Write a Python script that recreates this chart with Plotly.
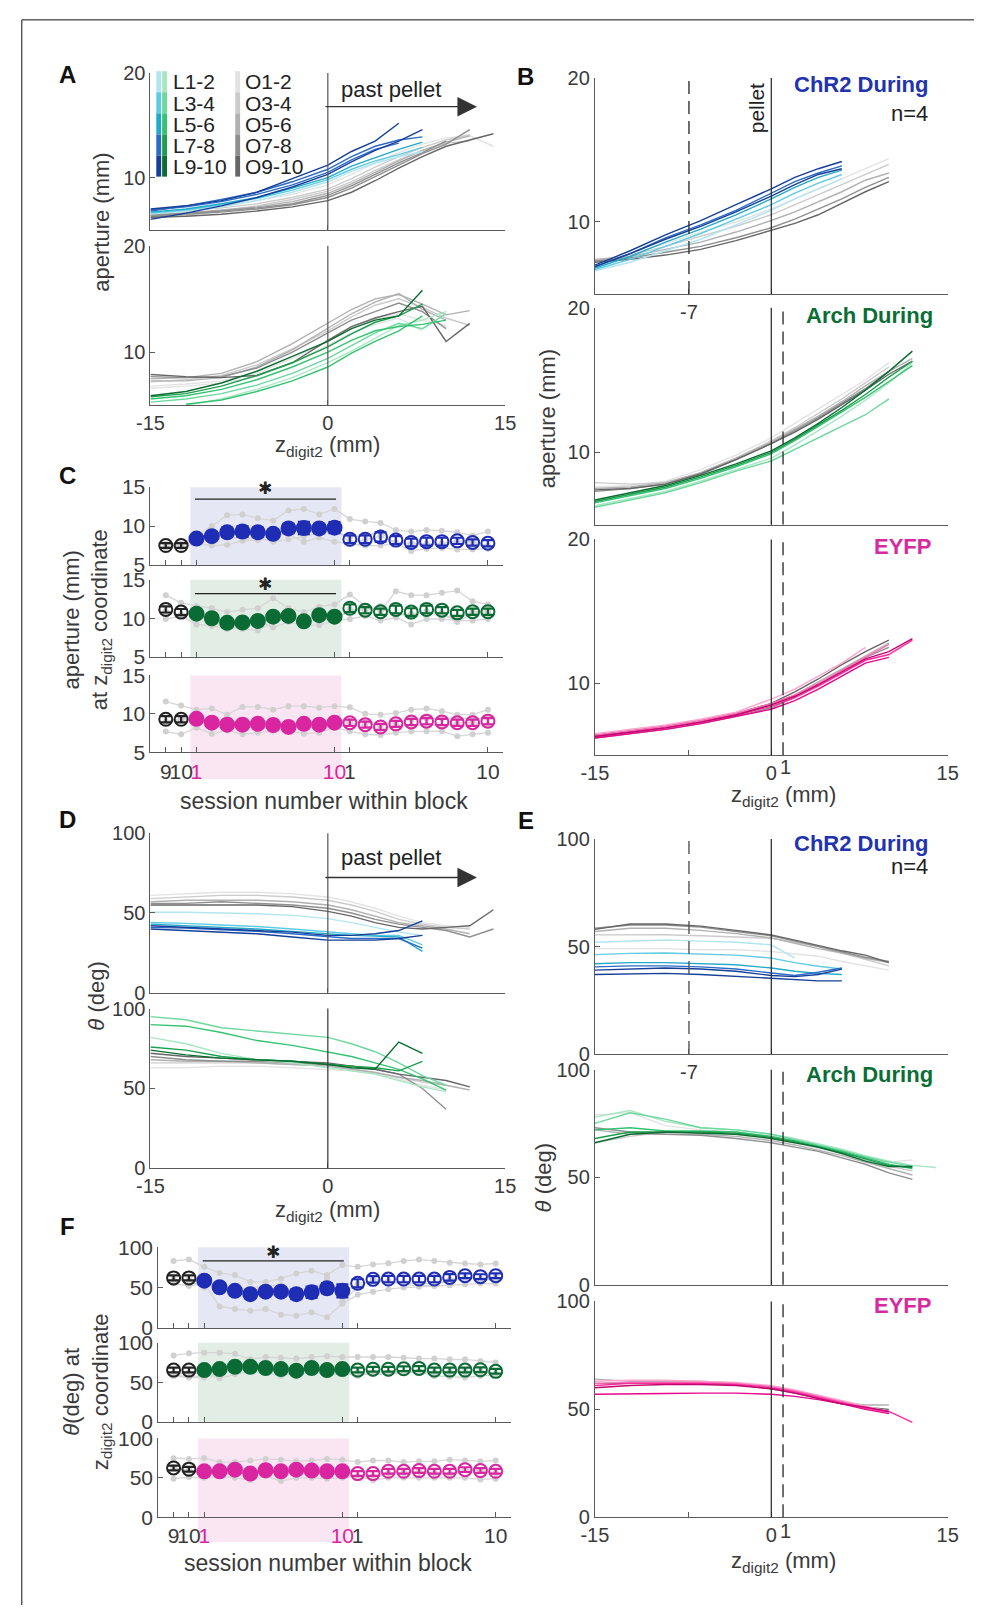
import plotly.graph_objects as go

W, H = 985, 1616
def fx(p): return p / W
def fy(p): return 1 - p / H

FONT = "Liberation Sans, Arial, sans-serif"
TXT = "#3a3a3a"
AX = "#5a5a5a"

# ---------------- colour families (session pairs 1-2 ... 9-10) ----------------
BLUES = ['#B3E5F0', '#5FCBE3', '#23A9C9', '#2B6BC6', '#163F99']
GREENS = ['#A9E7C3', '#6DD89E', '#35C372', '#1B9F4E', '#0B6E31']
GRAYS = ['#E3E3E3', '#CBCBCB', '#B1B1B1', '#8F8F8F', '#666666']
PINKS = ['#FFA3CF', '#FF6FB9', '#FF2A9E', '#E8068A', '#C3076F']
C_BLUE, C_GREEN, C_PINK = '#1F2DB5', '#0B6B35', '#D926A0'

# ---------------- trajectory data (x grid in mm) ----------------
G = [-15, -12, -9, -6, -3, 0, 2, 4, 6, 8, 10, 12, 14]

A1_OFF = [[6.6, 6.9, 7.3, 7.8, 8.4, 9.3, 10.3, 11.4, 12.4, 13.2, 13.8, 14.0, 13.0],
          [6.5, 6.8, 7.1, 7.5, 8.1, 8.9, 9.9, 11.0, 12.0, 12.9, 13.6, 14.1],
          [6.1, 6.4, 6.8, 7.3, 7.9, 8.7, 9.6, 10.7, 11.7, 12.6, 13.3, 13.5],
          [6.4, 6.6, 6.9, 7.2, 7.7, 8.5, 9.4, 10.5, 11.6, 12.6, 13.4, 14.0],
          [6.3, 6.5, 6.7, 7.0, 7.4, 8.1, 9.0, 10.1, 11.2, 12.3, 13.2, 14.6],
          [6.4, 6.6, 6.8, 7.1, 7.5, 8.3, 9.2, 10.3, 11.4, 12.4, 13.5],
          [6.2, 6.3, 6.5, 6.8, 7.2, 7.8, 8.6, 9.7, 10.9, 12.0, 13.0, 13.6, 14.2]]
A1_OFF_GRP = [0, 1, 1, 2, 3, 3, 4]
A1_ON = [[6.5, 6.8, 7.2, 7.8, 8.6, 9.6, 10.6, 11.4, 12.0, 12.5],
         [6.6, 6.9, 7.4, 8.0, 8.8, 9.8, 10.8, 11.6, 12.2, 12.9],
         [6.7, 7.0, 7.5, 8.1, 9.0, 10.0, 11.1, 11.9, 12.7, 13.4],
         [6.9, 7.2, 7.7, 8.4, 9.3, 10.5, 11.7, 12.7, 13.3],
         [6.8, 7.3, 7.9, 8.6, 9.6, 10.8, 12.0, 13.0, 13.6, 13.9],
         [7.0, 7.3, 7.8, 8.6, 9.9, 11.2, 12.5, 13.5, 15.2],
         [6.0, 6.6, 7.3, 8.1, 9.1, 10.3, 11.5, 12.6, 13.5, 14.6]]
A1_ON_GRP = [0, 1, 2, 3, 3, 4, 4]

A2_OFF = [[6.8, 7.0, 7.3, 8.0, 9.4, 11.0, 12.2, 13.1, 13.6, 13.0, 12.5],
          [6.6, 6.8, 7.1, 7.7, 9.0, 10.6, 11.8, 12.6, 13.2, 12.0],
          [7.2, 7.4, 7.8, 8.8, 10.3, 12.0, 13.3, 14.4, 15.0, 14.2, 13.2, 12.5],
          [7.5, 7.6, 8.0, 9.1, 10.8, 12.7, 14.0, 15.0, 15.4, 14.5, 13.5, 13.9],
          [7.3, 7.3, 7.6, 8.6, 10.2, 12.2, 13.6, 14.7, 15.5, 14.0, 13.0],
          [7.7, 7.6, 7.7, 8.5, 10.0, 11.8, 13.0, 13.8, 14.6, 13.8, 12.2],
          [7.9, 7.7, 7.6, 7.8, 9.0, 11.1, 12.4, 13.2, 13.8, 14.3, 11.0, 12.7]]
A2_OFF_GRP = [0, 0, 1, 2, 2, 3, 4]
A2_ON = [[None, 5.0, 5.6, 6.5, 7.6, 9.0, 10.1, 11.3, 12.5, 13.0, 13.8],
         [5.3, 5.6, 6.1, 6.9, 8.0, 9.4, 10.6, 11.8, 12.7, 12.2, 13.6],
         [5.6, 5.9, 6.5, 7.4, 8.6, 10.0, 11.1, 12.0, 12.4, 12.6, 13.0],
         [None, 5.1, 5.5, 6.3, 7.3, 8.6, 9.9, 11.0, 12.0, 13.4],
         [5.8, 6.1, 6.8, 7.8, 9.0, 10.5, 11.7, 12.8, 13.4, 14.5],
         [5.9, 6.3, 7.1, 8.2, 9.6, 11.0, 12.2, 13.0, 13.4, 15.8]]
A2_ON_GRP = [0, 1, 2, 2, 3, 4]

B1_OFF = [[7.2, 7.8, 8.5, 9.3, 10.0, 10.9, 11.6, 12.3, 13.0, 13.7, 14.4],
          [7.3, 7.7, 8.3, 9.0, 9.7, 10.5, 11.2, 11.9, 12.6, 13.3, 14.0],
          [7.4, 7.6, 8.1, 8.6, 9.3, 10.1, 10.7, 11.4, 12.1, 12.9, 13.4],
          [7.3, 7.5, 7.9, 8.3, 8.9, 9.6, 10.2, 10.9, 11.6, 12.4, 13.1],
          [7.2, 7.4, 7.7, 8.1, 8.7, 9.4, 9.9, 10.5, 11.3, 12.1, 12.8]]
B1_OFF_GRP = [0, 1, 2, 3, 4]
B1_ON = [[6.6, 7.2, 8.0, 8.8, 9.8, 10.8, 11.6, 12.3, 13.0],
         [6.7, 7.4, 8.3, 9.2, 10.2, 11.2, 12.0, 12.7, 13.3],
         [6.8, 7.6, 8.6, 9.5, 10.5, 11.6, 12.4, 13.1, 13.6],
         [6.9, 7.8, 8.9, 9.8, 10.8, 12.0, 12.8, 13.4, 13.9],
         [7.0, 8.0, 9.1, 10.1, 11.2, 12.3, 13.1, 13.7, 14.2],
         [6.9, 7.8, 8.8, 9.7, 10.7, 11.8, 12.6, 13.3, 13.7]]
B1_ON_GRP = [0, 1, 2, 3, 4, 4]

B2_OFF = [[7.6, 7.7, 8.0, 8.8, 9.8, 11.0, 12.0, 13.0, 14.0, 15.0, 16.2],
          [7.9, 7.8, 7.9, 8.6, 9.6, 10.8, 11.7, 12.7, 13.7, 14.8, 15.9],
          [7.5, 7.6, 7.9, 8.6, 9.6, 10.7, 11.6, 12.5, 13.5, 14.6, 15.6, 16.5],
          [7.3, 7.5, 7.8, 8.5, 9.5, 10.6, 11.5, 12.4, 13.4, 14.4, 15.6],
          [7.4, 7.5, 7.8, 8.5, 9.5, 10.6, 11.4, 12.3, 13.3, 14.3, 15.4, 16.3]]
B2_OFF_GRP = [0, 1, 2, 3, 4]
B2_ON = [[6.3, 6.8, 7.3, 8.0, 8.8, 9.6, 10.5, 11.5, 12.5, 13.6, 14.8, 16.2],
         [6.2, 6.7, 7.2, 7.9, 8.7, 9.4, 10.2, 11.0, 11.8, 12.6, 13.7],
         [6.5, 7.0, 7.5, 8.2, 9.0, 9.9, 10.8, 11.8, 12.8, 13.8, 14.9, 16.0],
         [6.6, 7.1, 7.6, 8.3, 9.1, 10.0, 10.9, 11.9, 12.9, 14.0, 15.2, 16.3],
         [6.7, 7.2, 7.7, 8.4, 9.2, 10.1, 11.0, 12.0, 13.1, 14.3, 15.6, 17.0]]
B2_ON_GRP = [0, 1, 2, 3, 4]

B3_OFF = [[6.3, 6.6, 6.9, 7.3, 7.8, 8.5, 9.2, 10.1, 11.0, 11.9, 12.8],
          [6.2, 6.5, 6.8, 7.2, 7.7, 8.3, 9.0, 9.9, 10.9, 11.8, 12.5],
          [6.4, 6.7, 7.0, 7.4, 7.9, 8.6, 9.4, 10.3, 11.3, 12.2, 13.0]]
B3_OFF_GRP = [2, 3, 4]
B3_ON = [[6.5, 6.8, 7.1, 7.5, 8.0, 8.9, 9.6, 10.5, 11.4, 12.5],
         [6.4, 6.7, 7.0, 7.4, 7.9, 8.6, 9.2, 10.0, 10.9, 11.8, 12.7],
         [6.3, 6.6, 6.9, 7.3, 7.8, 8.4, 9.0, 9.8, 10.7, 11.6, 12.0, 13.0],
         [6.2, 6.5, 6.8, 7.2, 7.7, 8.2, 8.8, 9.6, 10.5, 11.4, 11.8],
         [6.3, 6.6, 6.9, 7.3, 7.8, 8.5, 9.1, 9.9, 10.8, 11.7, 12.2, 13.1]]
B3_ON_GRP = [0, 1, 2, 3, 4]

D1_OFF = [[61, 62, 63, 63, 62, 60, 57, 53, 48, 44, 42, 41],
          [59, 60, 61, 61, 60, 58, 55, 51, 46, 43, 41, 40],
          [57, 58, 58, 58, 57, 55, 52, 48, 44, 42, 40, 37],
          [56, 56, 57, 56, 55, 53, 50, 46, 43, 41, 39, 35, 40],
          [55, 55, 55, 55, 54, 51, 48, 44, 41, 40, 41, 42, 52]]
D1_OFF_GRP = [0, 1, 2, 3, 4]
D1_ON = [[50.5, 50.5, 50, 49.5, 48.5, 46.5, 44, 41, 38, 36],
         [44, 43.5, 42.5, 41.5, 40, 38, 37, 36, 36, 30],
         [43, 42, 41, 40, 38.5, 37, 36, 35.5, 35, 26],
         [41, 40.5, 39.5, 38.5, 37, 35, 34, 34, 34, 28],
         [40, 39, 38, 37, 35, 33, 33, 33, 34, 36],
         [42, 41, 40, 39, 38, 36, 36, 37, 39, 45]]
D1_ON_GRP = [0, 1, 2, 3, 4, 4]

D2_OFF = [[63, 63, 64, 64, 63, 62, 61, 59, 56, 52, 49],
          [66, 66, 66, 66, 65, 64, 62, 60, 57, 54, 52],
          [68, 67, 67, 66, 65, 64, 62, 60, 57, 55, 52, 49],
          [70, 68, 67, 67, 66, 65, 64, 62, 59, 50, 37],
          [72, 70, 69, 68, 67, 66, 64, 62, 59, 57, 55, 51]]
D2_OFF_GRP = [0, 1, 2, 3, 4]
D2_ON = [[82, 78, 72, 68, 66, 63, 61, 59, 55, 51, 48],
         [95, 93, 88, 86, 84, 82, 78, 73, 66, 58, 52],
         [90, 89, 85, 80, 77, 73, 70, 66, 62, 56, 49],
         [76, 74, 70, 68, 67, 65, 64, 63, 61, 67],
         [74, 71, 69, 68, 67, 65, 63, 62, 79, 72]]
D2_ON_GRP = [0, 1, 2, 3, 4]

E1_OFF = [[49, 49, 49, 48.5, 48.5, 47.7, 46.5, 45.5, 43, 41, 39],
          [55.4, 55.5, 55.5, 55, 54.5, 53.8, 52, 50, 47, 44, 41],
          [57, 58.5, 58.5, 57.5, 56, 54, 51.5, 49, 47, 44.5, 42.5],
          [58.5, 60, 60, 59, 57, 55, 52.5, 50, 47.5, 45, 43],
          [58, 60.5, 60.5, 59.5, 57.5, 55.4, 53, 50.5, 48, 46, 42.5]]
E1_OFF_GRP = [0, 1, 2, 3, 4]
E1_ON = [[52, 52.5, 53, 52.5, 52, 50.8, 44.6],
         [46.2, 46.8, 47, 46.5, 46, 44.6, 42.5, 40.8, 39.5],
         [42, 42.5, 42.5, 42, 41.5, 40, 38.5, 37.5, 37],
         [40.5, 41, 41, 40.5, 39.5, 37.5, 36.5, 38, 40],
         [39, 39.5, 40, 39.5, 38.5, 36.5, 36, 37, 39.5],
         [37, 37.3, 37.5, 37, 36, 35, 34.5, 34, 34]]
E1_ON_GRP = [0, 1, 2, 3, 4, 4]

E2_OFF = [[79, 80, 74, 72, 71, 69, 67, 64.5, 62, 59, 57, 58],
          [66, 69, 71, 71, 70, 68, 66, 63.5, 61, 58, 55, 53],
          [72, 70, 70, 70, 69, 67, 65, 62.5, 60, 57, 54, 51],
          [73, 71, 70, 69.5, 68, 66, 64, 62, 59, 56, 52, 49]]
E2_OFF_GRP = [0, 1, 2, 3]
E2_ON = [[78, 81, 76, 73, 72, 70, 68, 65.5, 63, 60, 57.5, 55.5, 54.5],
         [75, 80, 77, 73, 72, 70, 67.5, 65, 62.5, 59.5, 57, 55],
         [72, 73, 71.5, 71.5, 71, 69, 67, 64.5, 62, 59, 56, 54],
         [68, 71, 71, 71, 70.5, 68.5, 66.5, 64, 61.5, 58.5, 55.5, 54.5],
         [66, 70, 71, 70.5, 70, 68, 66, 64, 61, 57.5, 55, 55]]
E2_ON_GRP = [0, 1, 2, 3, 4]

E3_OFF = [[64, 63, 63, 63, 62, 60, 58, 55.5, 53, 52, 52],
          [62, 62, 62, 62, 61.5, 59.5, 57.5, 55, 52.5, 51, 50]]
E3_OFF_GRP = [2, 4]
E3_ON = [[63, 63.5, 63.5, 63, 62.5, 61, 59, 56.5, 54, 51.5, 49],
         [62, 62.5, 62.5, 62.5, 62, 60.5, 58.5, 56, 53.5, 51, 48.5],
         [61, 62, 62, 62, 61.5, 60, 58, 55.5, 53, 50.5, 49, 44],
         [57, 57.3, 57.3, 57.5, 57.5, 57, 56, 54.5, 52.5, 50, 48],
         [60, 61, 61.5, 61.5, 61, 59.5, 57.5, 55, 52.5, 51, 49]]
E3_ON_GRP = [0, 1, 2, 3, 4]

# ---------------- session data ----------------
SESSION = list(range(22))            # 2 baseline, 10 laser, 10 post
SESSION_TICKS = [0, 1, 2, 11, 12, 21]
SESSION_LABELS = ['9', '10', '1', '10', '1', '10']

C1_MEAN = [7.5, 7.5, 8.4, 8.7, 9.2, 9.3, 9.2, 9.0, 9.7, 9.75, 9.7, 9.8, 8.3, 8.3, 8.6, 8.2, 7.9, 8.0, 8.0, 8.1, 7.9, 7.8]
C1_ERR = [0.3, 0.3, 0.4, 0.4, 0.6, 0.7, 0.6, 0.5, 0.6, 0.8, 0.6, 0.7, 0.5, 0.5, 0.6, 0.5, 0.5, 0.5, 0.5, 0.4, 0.4, 0.4]
C1_MICE = [[7.7, 7.7, 8.8, 10.0, 11.4, 11.5, 11.0, 10.7, 12.0, 12.2, 11.5, 12.2, 10.9, 10.6, 10.4, 9.5, 9.3, 9.5, 9.4, 9.2, 8.8, 9.3],
           [7.2, 7.2, 7.8, 7.5, 7.6, 8.1, 8.2, 8.9, 8.9, 8.0, 8.5, 8.0, 7.7, 7.5, 7.5, 7.8, 6.8, 7.1, 7.2, 7.0, 7.0, 7.1],
           [7.6, 7.4, 8.3, 8.6, 9.1, 9.4, 9.2, 8.8, 9.5, 9.8, 9.6, 9.7, 7.9, 8.2, 8.7, 7.9, 7.8, 7.7, 7.8, 8.1, 8.0, 7.5],
           [7.4, 7.6, 8.6, 8.9, 8.8, 8.3, 8.5, 8.0, 8.3, 8.7, 9.1, 9.3, 8.6, 8.8, 9.2, 7.7, 7.7, 7.7, 7.6, 8.0, 7.8, 7.3]]
C2_MEAN = [11.15, 10.8, 10.6, 10.0, 9.4, 9.45, 9.65, 10.2, 10.3, 9.6, 10.4, 10.2, 11.3, 11.05, 10.85, 11.15, 10.8, 11.15, 11.05, 10.7, 10.85, 10.85]
C2_ERR = [0.4, 0.4, 0.4, 0.4, 0.4, 0.4, 0.4, 0.4, 0.5, 0.4, 0.4, 0.4, 0.5, 0.4, 0.4, 0.5, 0.5, 0.5, 0.4, 0.4, 0.4, 0.4]
C2_MICE = [[13.0, 12.0, 11.6, 11.3, 10.8, 11.1, 11.3, 12.6, 11.3, 10.8, 11.5, 11.8, 13.1, 11.6, 10.9, 13.5, 13.0, 13.0, 13.3, 13.6, 12.2, 11.8],
           [9.9, 10.3, 9.2, 9.0, 8.6, 9.1, 9.7, 8.8, 9.5, 9.1, 9.1, 9.7, 9.9, 10.3, 9.7, 10.1, 9.2, 9.9, 9.9, 9.7, 9.7, 9.9],
           [10.8, 10.5, 10.8, 10.2, 9.3, 9.0, 9.2, 9.8, 10.4, 9.0, 10.6, 9.8, 11.0, 11.3, 11.2, 10.5, 10.6, 10.8, 10.3, 10.0, 10.8, 11.0],
           [10.9, 10.4, 10.8, 9.5, 8.9, 8.6, 8.4, 9.6, 10.0, 9.5, 10.4, 9.5, 11.2, 11.0, 11.6, 10.5, 10.4, 10.9, 10.7, 9.5, 10.7, 10.7]]
C3_MEAN = [9.3, 9.3, 9.35, 8.85, 8.6, 8.6, 8.7, 8.55, 8.3, 8.7, 8.6, 8.85, 8.85, 8.6, 8.3, 8.7, 8.95, 9.05, 8.95, 8.85, 8.85, 9.05]
C3_ERR = [0.4, 0.4, 0.4, 0.4, 0.3, 0.4, 0.4, 0.4, 0.3, 0.4, 0.4, 0.4, 0.4, 0.4, 0.4, 0.4, 0.4, 0.4, 0.4, 0.4, 0.4, 0.4]
C3_MICE = [[11.6, 11.1, 10.55, 10.7, 9.9, 10.9, 10.9, 10.55, 11.0, 11.0, 10.8, 11.0, 10.85, 10.0, 9.9, 10.1, 10.55, 10.7, 10.35, 9.9, 9.9, 10.55],
           [7.7, 7.35, 8.2, 7.4, 7.85, 7.35, 7.55, 7.75, 7.85, 7.4, 7.55, 8.2, 7.75, 7.35, 7.25, 7.55, 7.7, 7.75, 7.75, 7.1, 7.35, 7.55],
           [9.0, 9.4, 9.6, 9.0, 8.6, 8.8, 8.9, 8.5, 8.2, 8.8, 8.7, 8.9, 9.1, 8.9, 8.4, 8.9, 9.3, 9.4, 9.4, 9.5, 9.3, 9.6],
           [8.9, 9.3, 9.1, 8.3, 8.1, 8.4, 8.3, 7.9, 8.1, 8.7, 8.4, 8.6, 8.9, 8.5, 8.0, 8.5, 8.5, 8.6, 8.4, 8.8, 8.9, 8.6]]

F1_MEAN = [62, 62, 58.6, 50.4, 46, 41.8, 45, 45, 41.8, 44.3, 49.2, 46, 55.3, 60.2, 60.6, 60.6, 60.6, 60.6, 62.6, 64.7, 63.5, 64.7]
F1_ERR = [3, 3, 4, 4, 4, 5, 4, 4, 6, 7, 6, 8, 5, 4, 4, 4, 4, 4, 4, 3, 3, 3]
F1_MICE = [[83, 84.7, 75.7, 68, 65.5, 57, 57, 61, 67.5, 70.8, 65.5, 77.8, 75.7, 78.6, 80, 83, 84.7, 83, 80.6, 79.8, 78.6, 79.8],
           [55, 52, 55, 26.7, 23.5, 21.4, 23.5, 16.5, 15.3, 19.4, 13.3, 30, 41, 45, 48, 50, 51, 52, 53, 54, 55, 55],
           [58, 60, 54, 52, 47, 40, 47, 50, 42, 44, 55, 43, 55, 58, 57, 56, 55, 55, 57, 62, 61, 64],
           [60, 58, 50, 55, 48, 49, 52, 53, 42, 43, 62, 33, 50, 60, 58, 54, 52, 53, 60, 63, 60, 60]]
F2_MEAN = [65.4, 65.4, 65.4, 66.7, 69.6, 69.6, 68, 66.7, 64.6, 68, 65.4, 66.7, 65.4, 66.5, 66.5, 67, 67.5, 65.4, 65.4, 65.4, 65.8, 63.8]
F2_ERR = [3] * 22
F2_MICE = [[84, 86.6, 87.5, 87.5, 86, 79, 82, 81, 80, 82, 83, 82, 82, 82, 82, 81, 80, 80, 79, 79, 77, 75],
           [60, 62, 60, 55, 60, 63, 62, 58, 62, 63, 60, 60, 63, 60, 60, 62, 63, 58, 57, 56, 58, 59],
           [59, 57, 58, 62, 66, 68, 64, 64, 58, 63, 60, 63, 59, 62, 62, 63, 64, 62, 63, 63, 64, 61],
           [58, 56, 56, 62, 66, 69, 64, 64, 58, 64, 59, 62, 58, 62, 62, 62, 63, 62, 63, 64, 64, 60]]
F3_MEAN = [62.5, 61, 58.3, 58.3, 60.4, 55.4, 59.6, 58.3, 60.4, 59.2, 58.3, 58.3, 55.4, 55.4, 58.3, 58.3, 59.2, 58.3, 58.3, 60.4, 59.2, 58.3]
F3_ERR = [3] * 22
F3_MICE = [[75, 74, 75, 70, 70, 72, 74, 73, 71, 72, 74, 73, 70, 72, 72, 70, 71, 71, 73, 72, 71, 72],
           [49, 51, 50, 52, 50, 47, 52, 46, 50, 50, 49, 50, 52, 47, 50, 50, 50, 50, 50, 50, 48, 49],
           [63, 60, 55, 55, 61, 51, 56, 57, 60, 57, 55, 55, 50, 51, 56, 57, 58, 56, 55, 60, 59, 56],
           [63, 59, 53, 56, 61, 52, 57, 57, 61, 58, 55, 55, 50, 52, 55, 56, 58, 56, 55, 60, 59, 56]]

LEGEND_ON = ['L1-2', 'L3-4', 'L5-6', 'L7-8', 'L9-10']
LEGEND_OFF = ['O1-2', 'O3-4', 'O5-6', 'O7-8', 'O9-10']

# ---------------- figure ----------------
fig = go.Figure()
layout = {}
shapes = []
annotations = []

def ref(n):
    return ('x', 'y') if n == 1 else (f'x{n}', f'y{n}')

def setup(n, x0, x1, ytop, ybot, xr, yr, xtv, xtt, ytv, xlabels, tfs=20):
    xn, yn = ref(n)
    xa = 'xaxis' if n == 1 else f'xaxis{n}'
    ya = 'yaxis' if n == 1 else f'yaxis{n}'
    common = dict(showline=True, linecolor=AX, linewidth=1, ticks='inside', ticklen=5,
                  tickcolor=AX, tickwidth=1, showgrid=False, zeroline=False, fixedrange=True,
                  tickangle=0, tickfont=dict(family=FONT, size=tfs, color=TXT))
    layout[xa] = dict(domain=[fx(x0), fx(x1)], range=xr, anchor=yn, tickvals=xtv,
                      ticktext=xtt, showticklabels=xlabels, tickmode='array', **common)
    layout[ya] = dict(domain=[fy(ybot), fy(ytop)], range=yr, anchor=xn, tickvals=ytv,
                      tickmode='array', **common)

def curves(n, data, grp, palette, width=1.4):
    xn, yn = ref(n)
    for ys, g in zip(data, grp):
        fig.add_trace(go.Scatter(x=G[:len(ys)], y=ys, xaxis=xn, yaxis=yn, mode='lines',
                                 line=dict(color=palette[g], width=width),
                                 hoverinfo='skip', showlegend=False))

def vline(n, xv, color='#222', dash='solid', width=1.2):
    xn, yn = ref(n)
    shapes.append(dict(type='line', xref=xn, yref=f'{yn} domain', x0=xv, x1=xv, y0=0, y1=1,
                       line=dict(color=color, width=width, dash=dash)))

def text(px, py, s, size=22, color=TXT, bold=False, xanchor='center', angle=0, family=FONT):
    if bold:
        s = f'<b>{s}</b>'
    annotations.append(dict(x=fx(px), y=fy(py), xref='paper', yref='paper', text=s,
                            showarrow=False, xanchor=xanchor, yanchor='middle', textangle=angle,
                            font=dict(family=family, size=size, color=color)))

# ----- A -----
setup(1, 140, 504, 62, 221, [-15, 15], [5, 20], [-15, 0, 15], ['', '', ''], [10, 20], False)
setup(2, 140, 504, 237, 399, [-15, 15], [5, 20], [-15, 0, 15], ['-15', '0', '15'], [10, 20], True)
curves(1, A1_OFF, A1_OFF_GRP, GRAYS)
curves(1, A1_ON, A1_ON_GRP, BLUES)
curves(2, A2_OFF, A2_OFF_GRP, GRAYS)
curves(2, A2_ON, A2_ON_GRP, GREENS)
vline(1, 0, '#555'); vline(2, 0, '#555')

# ----- B -----
setup(3, 596, 958, 67, 286, [-15, 15], [5, 20], [-7, 0, 15], ['-7', '', ''], [10, 20], True)
setup(4, 596, 958, 300, 520, [-15, 15], [5, 20], [-15, 0, 15], ['', '', ''], [10, 20], False)
setup(5, 596, 958, 535, 754, [-15, 15], [5, 20], [-15, -7, 0, 15], ['-15', '', '0', '15'], [10, 20], True)
curves(3, B1_OFF, B1_OFF_GRP, GRAYS)
curves(3, B1_ON, B1_ON_GRP, BLUES)
curves(4, B2_OFF, B2_OFF_GRP, GRAYS)
curves(4, B2_ON, B2_ON_GRP, GREENS)
curves(5, B3_OFF, B3_OFF_GRP, GRAYS)
curves(5, B3_ON, B3_ON_GRP, PINKS)
vline(3, -7, '#333', '13px,7px', 1.4); vline(3, 0)
for n in (4, 5):
    vline(n, 0); vline(n, 1, '#333', '13px,7px', 1.4)

# ----- D -----
setup(9, 140, 504, 833, 995, [-15, 15], [0, 100], [-15, 0, 15], ['', '', ''], [0, 50, 100], False)
setup(10, 140, 504, 1011, 1173, [-15, 15], [0, 100], [-15, 0, 15], ['-15', '0', '15'], [0, 50, 100], True)
curves(9, D1_OFF, D1_OFF_GRP, GRAYS)
curves(9, D1_ON, D1_ON_GRP, BLUES)
curves(10, D2_OFF, D2_OFF_GRP, GRAYS)
curves(10, D2_ON, D2_ON_GRP, GREENS)
vline(9, 0, '#555'); vline(10, 0, '#333')

# ----- E -----
setup(11, 596, 958, 839, 1057, [-15, 15], [0, 100], [-7, 0, 15], ['-7', '', ''], [0, 50, 100], True)
setup(12, 596, 958, 1073, 1291, [-15, 15], [0, 100], [-15, 0, 15], ['', '', ''], [0, 50, 100], False)
setup(13, 596, 958, 1308, 1527, [-15, 15], [0, 100], [-15, -7, 0, 15], ['-15', '', '0', '15'], [0, 50, 100], True)
curves(11, E1_OFF, E1_OFF_GRP, GRAYS)
curves(11, E1_ON, E1_ON_GRP, BLUES)
curves(12, E2_OFF, E2_OFF_GRP, GRAYS)
curves(12, E2_ON, E2_ON_GRP, GREENS)
curves(13, E3_OFF, E3_OFF_GRP, GRAYS)
curves(13, E3_ON, E3_ON_GRP, PINKS)
vline(11, -7, '#555', '13px,7px', 1.4); vline(11, 0)
for n in (12, 13):
    vline(n, 0); vline(n, 1, '#333', '13px,7px', 1.4)

# ----- C & F session panels -----
def mag(s):
    return f'<span style="color:{C_PINK}">{s}</span>'
BOTTOM_LABELS = [SESSION_LABELS[0], SESSION_LABELS[1], mag(SESSION_LABELS[2]),
                 mag(SESSION_LABELS[3]), SESSION_LABELS[4], SESSION_LABELS[5]]

def session_panel(n, x0, x1, ytop, ybot, yr, ytv, mean, err, mice, color, shade, labels, shade_bottom=None):
    setup(n, x0, x1, ytop, ybot, [-1, 22], yr, SESSION_TICKS,
          BOTTOM_LABELS if labels else [''] * 6, ytv, labels, tfs=21)
    xn, yn = ref(n)
    if shade_bottom is None:
        shapes.append(dict(type='rect', xref=xn, yref=f'{yn} domain', x0=1.6, x1=11.45, y0=0, y1=1,
                           fillcolor=shade, line=dict(width=0), layer='below'))
    else:
        shapes.append(dict(type='rect', xref=xn, yref='paper', x0=1.6, x1=11.45, y0=fy(shade_bottom),
                           y1=fy(ytop), fillcolor=shade, line=dict(width=0), layer='below'))
    for m in mice:
        fig.add_trace(go.Scatter(x=SESSION, y=m, xaxis=xn, yaxis=yn, mode='lines+markers',
                                 line=dict(color='#D6D6D6', width=1.3),
                                 marker=dict(color='#D0D0D0', size=6),
                                 hoverinfo='skip', showlegend=False))
    segs = [(0, 2, '#222222', 'circle-open'), (2, 12, color, 'circle'), (12, 22, color, 'circle-open')]
    for a, b, c, sym in segs:
        fig.add_trace(go.Scatter(x=SESSION[a:b], y=mean[a:b], xaxis=xn, yaxis=yn, mode='markers',
                                 marker=dict(symbol=sym, color=c, size=14 if sym == 'circle' else 13,
                                             line=dict(color=c, width=2)),
                                 error_y=dict(type='data', array=err[a:b], color=c, thickness=2.2, width=6),
                                 hoverinfo='skip', showlegend=False))

session_panel(6, 140, 502, 482, 561, [5, 15], [5, 10, 15], C1_MEAN, C1_ERR, C1_MICE, C_BLUE, '#E5E7F4', False)
session_panel(7, 140, 502, 576, 654, [5, 15], [5, 10, 15], C2_MEAN, C2_ERR, C2_MICE, C_GREEN, '#E2EDE5', False)
session_panel(8, 140, 502, 673, 751, [5, 15], [5, 10, 15], C3_MEAN, C3_ERR, C3_MICE, C_PINK, '#FAE6F3', True, 778)
session_panel(14, 148, 510, 1253, 1335, [0, 100], [0, 50, 100], F1_MEAN, F1_ERR, F1_MICE, C_BLUE, '#E5E7F4', False)
session_panel(15, 148, 510, 1350, 1430, [0, 100], [0, 50, 100], F2_MEAN, F2_ERR, F2_MICE, C_GREEN, '#E2EDE5', False)
session_panel(16, 148, 510, 1447, 1527, [0, 100], [0, 50, 100], F3_MEAN, F3_ERR, F3_MICE, C_PINK, '#FAE6F3', True, 1552)

# significance bars
for n, yv, ya in ((6, 13.45, 14.9), (7, 13.2, 14.5), (14, 83, 94)):
    xn, yn = ref(n)
    shapes.append(dict(type='line', xref=xn, yref=yn, x0=1.9, x1=11.1, y0=yv, y1=yv,
                       line=dict(color='#222', width=1.2)))
    annotations.append(dict(x=6.5, y=ya, xref=xn, yref=yn, text='✱', showarrow=False,
                            font=dict(family='DejaVu Sans', size=17, color='#222')))

# ----- legend of panel A -----
for k in range(5):
    t = 60 + 21.4 * k
    for (a, b, pal) in ((146, 151, BLUES), (152, 157, GREENS), (227, 232, GRAYS)):
        shapes.append(dict(type='rect', xref='paper', yref='paper', x0=fx(a), x1=fx(b),
                           y0=fy(t + 21.4), y1=fy(t), fillcolor=pal[k], line=dict(width=0)))
    text(161, t + 11, LEGEND_ON[k], size=21, color='#222', xanchor='left')
    text(235, t + 11, LEGEND_OFF[k], size=21, color='#222', xanchor='left')

# ----- texts -----
text(333, 79, 'past pellet', size=22, color='#222', xanchor='left')
text(333, 858, 'past pellet', size=22, color='#222', xanchor='left')
for yy in (96, 878):
    annotations.append(dict(x=fx(475), y=fy(yy), xref='paper', yref='paper', text='', showarrow=True,
                            ax=-153, ay=0, arrowhead=2, arrowsize=3, arrowwidth=1.3, arrowcolor='#333'))

text(762, 98, 'pellet', size=21, color='#222', angle=-90)
text(940, 74, 'ChR2 During', size=22, color='#2233B0', bold=True, xanchor='right')
text(940, 103, 'n=4', size=22, color='#222', xanchor='right')
text(945, 308, 'Arch During', size=22, color='#0A6E35', bold=True, xanchor='right')
text(943, 542, 'EYFP', size=22, color='#D62BA0', bold=True, xanchor='right')
text(940, 843, 'ChR2 During', size=22, color='#2233B0', bold=True, xanchor='right')
text(940, 867, 'n=4', size=22, color='#222', xanchor='right')
text(945, 1078, 'Arch During', size=22, color='#0A6E35', bold=True, xanchor='right')
text(943, 1312, 'EYFP', size=22, color='#D62BA0', bold=True, xanchor='right')
text(792, 766, '1', size=20)
text(792, 1541, '1', size=20)

ZT = 'z<sub>digit2</sub> (mm)'
text(322, 440, ZT, size=22)
text(790, 795, ZT, size=22)
text(322, 1216, ZT, size=22)
text(790, 1572, ZT, size=22)
text(318, 800, 'session number within block', size=23)
text(322, 1573, 'session number within block', size=23)
text(90, 213, 'aperture (mm)', size=22, angle=-90)
text(547, 413, 'aperture (mm)', size=22, angle=-90)
text(75, 617, 'aperture (mm)<br>at z<sub>digit2</sub> coordinate', size=22, angle=-90)
text(85, 998, '<i>θ</i> (deg)', size=22, angle=-90)
text(543, 1183, '<i>θ</i> (deg)', size=22, angle=-90)
text(75, 1400, '<i>θ</i>(deg) at<br>z<sub>digit2</sub> coordinate', size=22, angle=-90)

for lab, px, py in (('A', 55, 63), ('B', 525, 65), ('C', 55, 470), ('D', 55, 819), ('E', 525, 820), ('F', 55, 1232)):
    text(px, py, lab, size=24, color='#111', bold=True)

# outer frame (left and top edges)
shapes.append(dict(type='line', xref='paper', yref='paper', x0=fx(8), x1=fx(8), y0=0, y1=fy(8),
                   line=dict(color='#111', width=1)))
shapes.append(dict(type='line', xref='paper', yref='paper', x0=fx(8), x1=1, y0=fy(8), y1=fy(8),
                   line=dict(color='#111', width=1)))

fig.update_layout(width=W, height=H, margin=dict(l=0, r=0, t=0, b=0, pad=0),
                  paper_bgcolor='white', plot_bgcolor='rgba(0,0,0,0)',
                  shapes=shapes, annotations=annotations, showlegend=False,
                  font=dict(family=FONT, color=TXT), **layout)
fig.write_html("out.html")
